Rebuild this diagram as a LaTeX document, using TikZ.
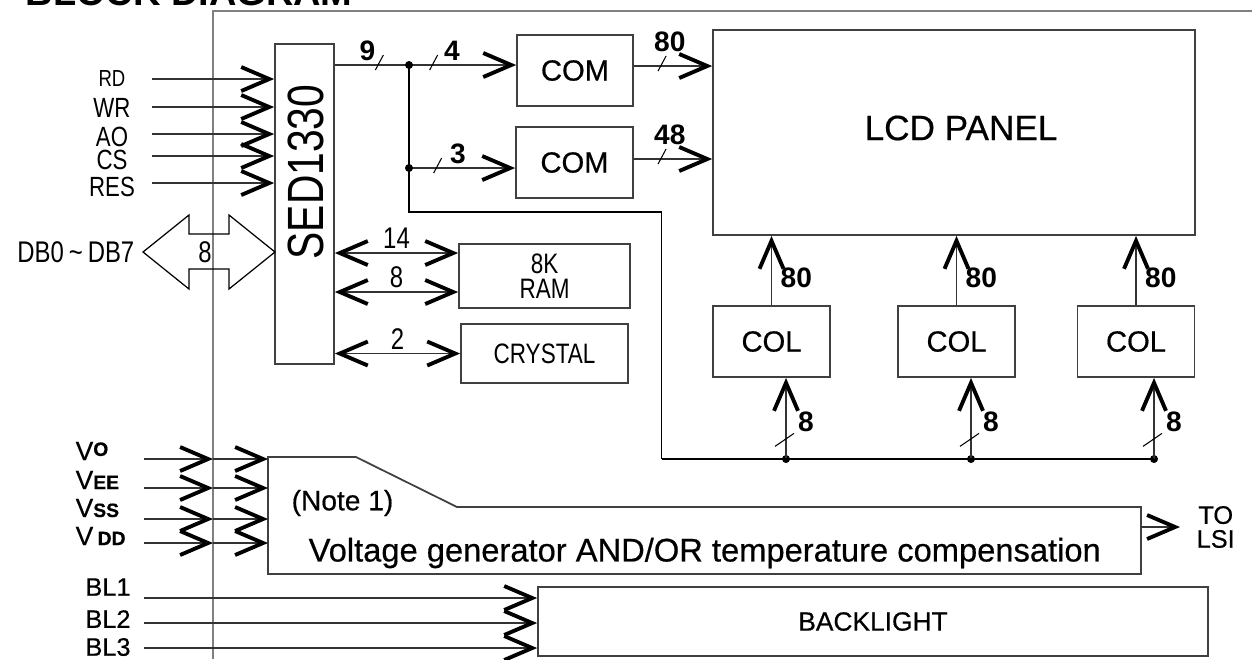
\documentclass[tikz,border=0pt]{standalone}
\usepackage{fontspec}
\setmainfont{Liberation Sans}
\newfontfamily\narrowsf[FakeStretch=0.8]{Liberation Sans}
\newfontfamily\medsf[FakeBold=0.5]{Liberation Sans}
\usetikzlibrary{arrows.meta}
\newcommand{\fsz}[1]{\fontsize{#1}{#1}\selectfont}
\newcommand{\busmark}[1]{\draw[line width=0.3pt] (#1) ++(-4,5) -- ++(8,-15);}
\newcommand{\vbusmark}[1]{\draw[line width=0.3pt] (#1) ++(-11,6) -- ++(19,-13);}

\begin{document}
\begin{tikzpicture}[x=0.1mm, y=-0.1mm,
  box/.style={draw=black!75, line width=0.5pt, inner sep=0pt},
  wire/.style={draw=black!80, line width=0.35pt},
  chev/.style={wire, -{Straight Barb[length=2.8mm,width=2.4mm,line width=1.1pt,color=black]}},
  dchev/.style={wire, {Straight Barb[length=2.8mm,width=2.4mm,line width=1.1pt,color=black]}-{Straight Barb[length=2.8mm,width=2.4mm,line width=1.1pt,color=black]}},
  bus/.style={draw=black, line width=0.5pt},
  dot/.style={circle, fill=black, inner sep=0pt, minimum size=0.8mm},
  nar/.style={font=\narrowsf\fsz{8.5}, inner sep=1pt},
  num/.style={font=\bfseries\fsz{8}, inner sep=1pt}]
  \useasboundingbox (0,0) rectangle (1252,659);

  \node[anchor=base west, inner sep=0pt, font=\bfseries\fsz{10.8}] (title) at (25,5) {BLOCK DIAGRAM};
  \coordinate (ftop) at (213,11);
  \draw[gray, line width=0.5pt] (213,659) -- (ftop) -- (1252,11);

  \node[box, minimum width=5.9mm, minimum height=32mm] (sed) at (304.5,204) {};
  \node[rotate=90, inner sep=0pt, font=\narrowsf\fsz{14.5}] (sedname) at (306,172) {SED1330};
  \node[box, minimum width=11.6mm, minimum height=7.1mm, font=\medsf\fsz{8.3}] (com1) at (575,70.5) {COM};
  \node[box, minimum width=11.7mm, minimum height=7.1mm, font=\medsf\fsz{8.3}] (com2) at (574.5,162.5) {COM};
  \node[box, minimum width=48.2mm, minimum height=20.5mm] (lcd) at (954,132.5) {};
  \node[inner sep=0pt, font=\medsf\fsz{10}] (lcdname) at (961,128) {LCD PANEL};
  \node[box, minimum width=17.1mm, minimum height=6.4mm, align=center, font=\narrowsf\fontsize{8}{7.2}\selectfont] (ram) at (544.5,276) {8K\\RAM};
  \node[box, minimum width=16.7mm, minimum height=5.9mm, font=\narrowsf\fsz{8}] (xtal) at (544.5,353.5) {CRYSTAL};
  \foreach \i/\x in {1/771.5, 2/956.5, 3/1136}
    \node[box, minimum width=11.7mm, minimum height=7.1mm, font=\medsf\fsz{8.3}] (col\i) at (\x,341.5) {COL};
  \node[box, minimum width=67mm, minimum height=6.9mm, font=\medsf\fsz{7.5}] (blight) at (873,621.5) {BACKLIGHT};

  \foreach \s/\y/\ly/\f in {RD/79/79/6.6, WR/107/108/7.9, AO/134/137/7.9, CS/156/160/7.9, RES/183/187/7.9} {
    \node[inner sep=0pt, font=\narrowsf\fsz{\f}] (lab\s) at (112,\ly) {\s};
    \coordinate (in\s) at (152,\y);
    \draw[chev] (in\s) -- (in\s -| sed.west);
  }

  \draw[line width=0.35pt] (143,252) -- (189,215) -- (189,234) -- (229,234) -- (229,215) -- (275,252)
    -- (229,289) -- (229,269) -- (189,269) -- (189,289) -- cycle;
  \node[nar] (dbwidth) at (205,252) {8};
  \node[anchor=east, inner sep=0pt, font=\narrowsf\fsz{8.5}] (db) at (135,252) {DB0\,\textasciitilde\,DB7};

  \coordinate (r14) at ([yshift=2.3mm]ram.west);
  \coordinate (r8) at ([yshift=-1.6mm]ram.west);
  \draw[dchev] (r14 -| sed.east) -- (r14) node[midway, above, nar] {14};
  \draw[dchev] (r8 -| sed.east) -- (r8) node[midway, above, nar] {8};
  \draw[dchev] (sed.east |- xtal.west) -- (xtal.west) node[midway, above, nar] {2};

  \coordinate (j1) at (409,65);
  \coordinate (j2) at (409,168);
  \coordinate (j3) at (409,212);
  \coordinate (j4) at (661.5,212);
  \coordinate (j5) at (661.5,459);
  \draw[wire] (j1 -| sed.east) -- (j1) coordinate[pos=0.6] (m9) node[pos=0.44, above, num] {9};
  \busmark{m9}
  \draw[chev] (j1) -- (j1 -| com1.west) coordinate[pos=0.23] (m4) node[pos=0.4, above, num] {4};
  \busmark{m4}
  \draw[chev] (j2) -- (j2 -| com2.west) coordinate[pos=0.27] (m3) node[pos=0.46, above, num] {3};
  \busmark{m3}
  \draw[bus] (j1) -- (j3) -- (j4) -- (j5);
  \node[dot] (dj1) at (j1) {};
  \node[dot] (dj2) at (j2) {};

  \coordinate (c1) at ([yshift=0.45mm]com1.east);
  \coordinate (c2) at ([yshift=0.35mm]com2.east);
  \draw[chev] (c1) -- (c1 -| lcd.west) coordinate[pos=0.36] (m80) node[pos=0.46, above=1mm, num] {80};
  \busmark{m80}
  \draw[chev] (c2) -- (c2 -| lcd.west) coordinate[pos=0.36] (m48) node[pos=0.46, above=1mm, num] {48};
  \busmark{m48}

  \foreach \i/\x in {1/786, 2/971, 3/1154} {
    \node[dot] (d\i) at (\x,459) {};
    \draw[chev] (d\i.center) -- (d\i.center |- col\i.south) coordinate[pos=0.23] (m8\i)
      node[pos=0.46, right=0.8mm, num] {8};
    \vbusmark{m8\i}
    \draw[chev] (col\i.north) -- (col\i.north |- lcd.south) node[pos=0.39, right=0.5mm, num] {80};
  }
  \draw[bus] (j5) -- (d3.center);

  \coordinate (vtl) at (268,457);
  \coordinate (vbr) at (1141,574);
  \draw[box] (vtl) -- (356,457) -- (457,507) -- (1141,507) -- (vbr) -- (vtl |- vbr) -- cycle;
  \node[anchor=west, inner sep=0pt, font=\medsf\fsz{8}] (note) at (291,503) {(Note 1)};
  \node[anchor=west, inner sep=0pt, font=\medsf\fsz{9.3}] (vgen) at (308,553) {Voltage generator AND/OR temperature compensation};
  \foreach \n/\y in {vo/459, vee/488, vss/519, vdd/543} {
    \coordinate (\n) at (143.5,\y);
    \draw[chev] (\n) -- (\n -| ftop);
    \draw[chev] (\n -| ftop) -- (\n -| vtl);
  }
  \node[anchor=west, inner sep=0pt, font=\medsf\fsz{7.5}] (lvo) at (75,451) {V\raisebox{0.3ex}{\bfseries\fsz{5.5}O}};
  \node[anchor=west, inner sep=0pt, font=\medsf\fsz{7.5}] (lvee) at (75,480) {V{\bfseries\fsz{5.5}EE}};
  \node[anchor=west, inner sep=0pt, font=\medsf\fsz{7.5}] (lvss) at (75,508) {V{\bfseries\fsz{5.5}SS}};
  \node[anchor=west, inner sep=0pt, font=\medsf\fsz{7.5}] (lvdd) at (75,536) {V\,{\bfseries\fsz{5.5}DD}};

  \coordinate (tolsi) at (1180,527);
  \draw[chev] (vbr |- tolsi) -- (tolsi);
  \node[anchor=west, inner sep=0pt, align=center, font=\medsf\fontsize{7.2}{6.8}\selectfont] (lsi) at (1196,527) {TO\\LSI};

  \foreach \b/\y/\ly in {1/598/587, 2/623/619, 3/648/647} {
    \node[inner sep=0pt, font=\medsf\fsz{7.2}] (lbl\b) at (108,\ly) {BL\b};
    \coordinate (bl\b) at (143.5,\y);
    \draw[chev] (bl\b) -- (bl\b -| blight.west);
  }
\end{tikzpicture}
\end{document}
